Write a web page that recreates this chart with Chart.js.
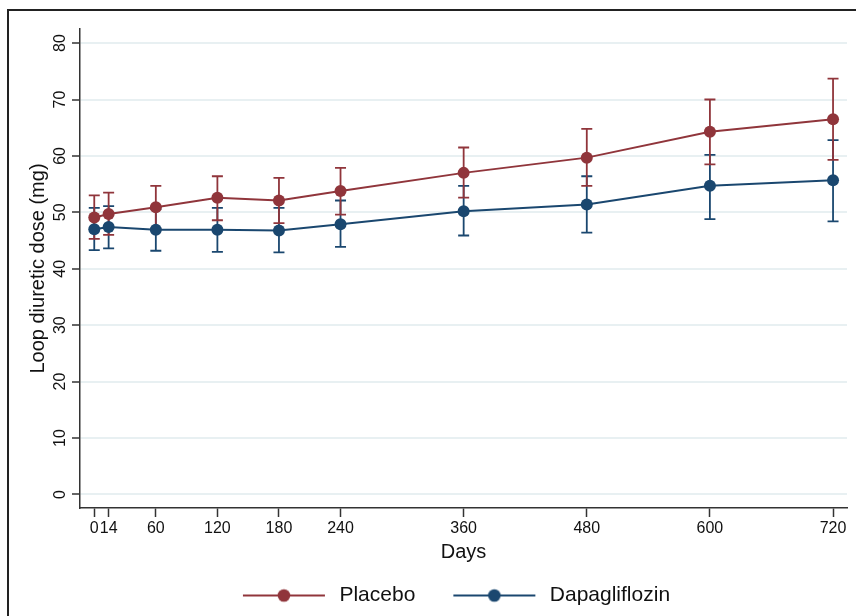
<!DOCTYPE html>
<html>
<head>
<meta charset="utf-8">
<script src="https://cdn.jsdelivr.net/npm/chart.js@4"></script>
<style>
  body { margin: 0; background: #fff; }
  #wrap { position: relative; width: 856px; height: 616px; overflow: hidden; }
  #frame { position: absolute; left: 7px; top: 9px; width: 900px; height: 700px;
           border-top: 2.5px solid #222; border-left: 2.5px solid #222; }
  canvas { position: absolute; left: 0; top: 0; }
</style>
</head>
<body>
<div id="wrap">
  <div id="frame"></div>
  <canvas id="grafico" width="856" height="616"></canvas>
</div>
<script>
const days = [0, 14, 60, 120, 180, 240, 360, 480, 600, 720];
const yTicks = [0, 10, 20, 30, 40, 50, 60, 70, 80];

const placeboMean = [49.1, 49.7, 50.9, 52.6, 52.1, 53.8, 57.0, 59.7, 64.3, 66.5];
const placeboLow  = [45.3, 46.0, 47.1, 48.6, 48.1, 49.6, 52.6, 54.7, 58.5, 59.3];
const placeboHigh = [53.0, 53.5, 54.7, 56.4, 56.1, 57.9, 61.5, 64.8, 70.0, 73.7];

const dapaMean = [47.0, 47.4, 46.9, 46.9, 46.8, 47.9, 50.2, 51.4, 54.7, 55.7];
const dapaLow  = [43.3, 43.6, 43.2, 43.0, 42.9, 43.9, 45.9, 46.4, 48.8, 48.4];
const dapaHigh = [50.8, 51.1, 50.6, 50.8, 50.8, 52.1, 54.7, 56.4, 60.2, 62.8];

const vermelho = '#90353b';
const azul = '#1a476f';

Chart.defaults.font.family = "'Liberation Sans', Arial, Helvetica, sans-serif";
Chart.defaults.color = '#111';

// icone da legenda: linha com bolinha no meio
function iconeLegenda(cor) {
  const c = document.createElement('canvas');
  c.width = 114; c.height = 18;
  const ctx = c.getContext('2d');
  ctx.strokeStyle = cor; ctx.lineWidth = 2;
  ctx.beginPath(); ctx.moveTo(28, 9); ctx.lineTo(110, 9); ctx.stroke();
  ctx.fillStyle = cor;
  ctx.beginPath(); ctx.arc(69, 9, 6.3, 0, Math.PI * 2); ctx.fill();
  return c;
}

// barras de erro desenhadas com as escalas do grafico
const barrasErro = {
  id: 'barrasErro',
  beforeDatasetsDraw(chart) {
    const {ctx, scales: {x, y}} = chart;
    const series = [[dapaLow, dapaHigh, azul], [placeboLow, placeboHigh, vermelho]];
    series.forEach(([baixo, alto, cor]) => {
      ctx.save();
      ctx.strokeStyle = cor;
      ctx.lineWidth = 1.8;
      days.forEach((d, i) => {
        const px = x.getPixelForValue(d);
        const y1 = y.getPixelForValue(baixo[i]);
        const y2 = y.getPixelForValue(alto[i]);
        ctx.beginPath();
        ctx.moveTo(px, y1); ctx.lineTo(px, y2);
        ctx.moveTo(px - 5.5, y1); ctx.lineTo(px + 5.5, y1);
        ctx.moveTo(px - 5.5, y2); ctx.lineTo(px + 5.5, y2);
        ctx.stroke();
      });
      ctx.restore();
    });
  }
};

function zeraPadding(s) {
  s.paddingTop = 0; s.paddingBottom = 0; s.paddingLeft = 0; s.paddingRight = 0;
}

const grafico = new Chart(document.getElementById('grafico'), {
  type: 'line',
  data: {
    datasets: [
      {
        label: 'Placebo',
        data: days.map((d, i) => ({x: d, y: placeboMean[i]})),
        borderColor: vermelho,
        backgroundColor: vermelho,
        borderWidth: 2,
        pointRadius: 6,
        pointBorderWidth: 0,
        tension: 0
      },
      {
        label: 'Dapagliflozin',
        data: days.map((d, i) => ({x: d, y: dapaMean[i]})),
        borderColor: azul,
        backgroundColor: azul,
        borderWidth: 2,
        pointRadius: 6,
        pointBorderWidth: 0,
        tension: 0
      }
    ]
  },
  options: {
    responsive: false,
    animation: false,
    devicePixelRatio: 1,
    layout: { padding: { left: 38, right: 9, top: 29, bottom: 0 } },
    scales: {
      x: {
        type: 'linear',
        min: -13.9,
        max: 733.6,
        afterBuildTicks: s => { s.ticks = days.map(v => ({value: v})); },
        afterFit: s => { s.height = 67; zeraPadding(s); },
        ticks: { autoSkip: false, maxRotation: 0, minRotation: 0, padding: 2,
                 font: { size: 16 }, color: '#111', callback: v => v },
        grid: { drawOnChartArea: false, tickColor: '#333', tickLength: 9, tickWidth: 1.5 },
        border: { color: '#333', width: 1.5 },
        title: { display: true, text: 'Days', font: { size: 20 }, color: '#111',
                 padding: { top: 0, bottom: 11 } }
      },
      y: {
        min: -2.4,
        max: 82.5,
        afterBuildTicks: s => { s.ticks = yTicks.map(v => ({value: v})); },
        afterFit: s => { s.width = 42; zeraPadding(s); },
        ticks: { minRotation: 90, maxRotation: 90, crossAlign: 'center', padding: 3,
                 font: { size: 16 }, color: '#111', callback: v => v },
        grid: { color: '#e8f0f2', lineWidth: 2, tickColor: '#333', tickLength: 8, tickWidth: 1.5 },
        border: { color: '#333', width: 1.5 },
        title: { display: true, text: 'Loop diuretic dose (mg)', font: { size: 20 }, color: '#111',
                 padding: { top: -12, bottom: 0 } }
      }
    },
    plugins: {
      tooltip: { enabled: false },
      legend: {
        position: 'bottom',
        maxHeight: 46,
        labels: {
          usePointStyle: true,
          pointStyleWidth: 114,
          padding: 10,
          font: { size: 21 },
          color: '#111',
          generateLabels: chart => chart.data.datasets.map((ds, i) => ({
            text: ds.label,
            pointStyle: iconeLegenda(ds.borderColor),
            datasetIndex: i,
            hidden: false,
            lineWidth: 0,
            fillStyle: ds.borderColor,
            strokeStyle: ds.borderColor,
            fontColor: '#111'
          }))
        }
      }
    }
  },
  plugins: [barrasErro]
});
</script>
</body>
</html>
